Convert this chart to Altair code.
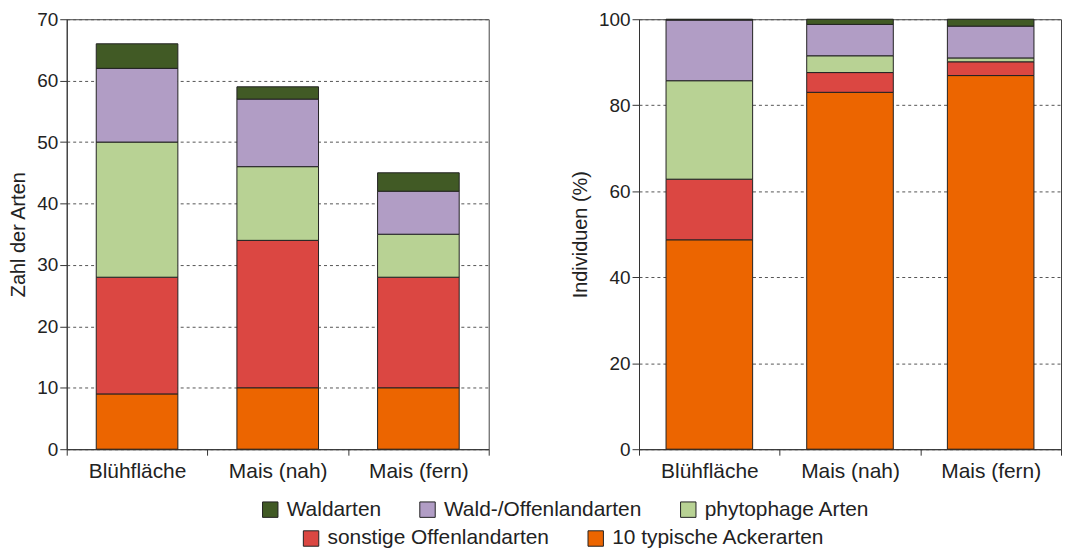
import altair as alt
import pandas as pd

categories = ["Blühfläche", "Mais (nah)", "Mais (fern)"]
groups_top = ["Waldarten", "Wald-/Offenlandarten", "phytophage Arten"]
groups_bottom = ["sonstige Offenlandarten", "10 typische Ackerarten"]
colors_top = ["#415a25", "#b19dc5", "#b8d294"]
colors_bottom = ["#db4742", "#ec6500"]

# Zahl der Arten (counts)
n_acker = [9, 10, 10]
n_sonstige = [19, 24, 18]
n_phyto = [22, 12, 7]
n_waldoffen = [12, 11, 7]
n_wald = [4, 2, 3]

# Individuen (%)
p_acker = [48.7, 83.0, 86.9]
p_sonstige = [14.1, 4.6, 3.2]
p_phyto = [22.9, 3.9, 0.9]
p_waldoffen = [14.1, 7.3, 7.4]
p_wald = [0.2, 1.2, 1.6]

stack_order = ["10 typische Ackerarten", "sonstige Offenlandarten",
               "phytophage Arten", "Wald-/Offenlandarten", "Waldarten"]

FONT = "Liberation Sans"


def build(series):
    rows = []
    for i, cat in enumerate(categories):
        base = 0.0
        for g, vals in zip(stack_order, series):
            v = vals[i]
            rows.append({"cat": cat, "group": g, "y0": base, "y1": base + v})
            base += v
    return pd.DataFrame(rows)


df_n = build([n_acker, n_sonstige, n_phyto, n_waldoffen, n_wald])
df_p = build([p_acker, p_sonstige, p_phyto, p_waldoffen, p_wald])

legend_common = dict(
    orient="none", direction="horizontal", title=None,
    symbolType="square", symbolSize=240, symbolStrokeColor="#222",
    symbolStrokeWidth=1, labelFontSize=21, labelFont=FONT, labelColor="#222",
    labelOffset=6, columnPadding=36, padding=0, labelLimit=400,
)
legend_top = alt.Legend(legendX=194, legendY=482, **legend_common)
legend_bottom = alt.Legend(legendX=235, legendY=511, **legend_common)


def panel(df, ytitle, ymax, step, barw):
    x = alt.X("cat:N", sort=categories, title=None,
              scale=alt.Scale(paddingInner=0, paddingOuter=0),
              axis=alt.Axis(labelAngle=0, tickBand="extent", labelFontSize=21,
                            labelPadding=5, grid=False, tickSize=6,
                            domainColor="#333", tickColor="#333",
                            labelColor="#222", labelFont=FONT))
    y = alt.Y("y0:Q", title=ytitle,
              scale=alt.Scale(domain=[0, ymax], nice=False),
              axis=alt.Axis(values=list(range(0, ymax + 1, step)), grid=True,
                            gridColor="#555", gridDash=[3, 3], gridWidth=1,
                            tickSize=7, tickColor="#333", domainColor="#333",
                            labelFontSize=19, labelPadding=2, labelColor="#222",
                            labelFont=FONT, titleFont=FONT, titleFontSize=20,
                            titleFontWeight="normal", titleColor="#222",
                            titlePadding=8))
    bottom = alt.Chart(df).transform_filter(
        alt.FieldOneOfPredicate(field="group", oneOf=groups_bottom)
    ).mark_bar(width=barw, stroke="#222", strokeWidth=1).encode(
        x=x, y=y, y2="y1:Q",
        fill=alt.Fill("group:N", scale=alt.Scale(domain=groups_bottom, range=colors_bottom),
                      legend=legend_bottom),
    )
    top = alt.Chart(df).transform_filter(
        alt.FieldOneOfPredicate(field="group", oneOf=groups_top)
    ).mark_bar(width=barw, stroke="#222", strokeWidth=1).encode(
        x=x, y=y, y2="y1:Q",
        color=alt.Color("group:N", scale=alt.Scale(domain=groups_top, range=colors_top),
                        legend=legend_top),
    )
    return alt.layer(bottom, top).properties(width=424, height=432)


left = panel(df_n, "Zahl der Arten", 70, 10, 82)
right = panel(df_p, "Individuen (%)", 100, 20, 87)

chart = alt.hconcat(left, right, spacing=80).properties(
    padding={"left": 0, "top": 0, "right": 0, "bottom": 0}
).configure(font=FONT).configure_view(stroke="#444", strokeWidth=1)

chart.save("out.html", embed_options={"renderer": "svg", "actions": False})
